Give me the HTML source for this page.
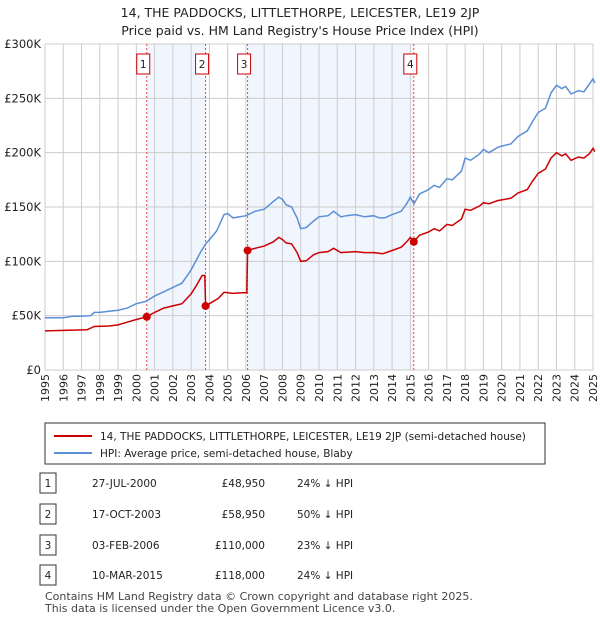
<!DOCTYPE html>
<html><head><meta charset="utf-8"><style>
body{margin:0;background:#fff;font-family:"Liberation Sans","DejaVu Sans",sans-serif;}
svg text{font-family:"DejaVu Sans","Liberation Sans",sans-serif;}
</style></head><body>
<svg id="chart" width="600" height="620" xmlns="http://www.w3.org/2000/svg">
<text x="300" y="17" text-anchor="middle" font-size="12.5" fill="#222">14, THE PADDOCKS, LITTLETHORPE, LEICESTER, LE19 2JP</text>
<text x="300" y="35" text-anchor="middle" font-size="12.5" fill="#222">Price paid vs. HM Land Registry's House Price Index (HPI)</text>
<g id="plot"></g>
<g>
<rect x="45" y="423" width="500" height="41" fill="#fff" stroke="#333" stroke-width="1"/>
<line x1="54" y1="436" x2="92" y2="436" stroke="#cc0000" stroke-width="2"/>
<text x="100" y="440" font-size="10.5" fill="#222">14, THE PADDOCKS, LITTLETHORPE, LEICESTER, LE19 2JP (semi-detached house)</text>
<line x1="54" y1="453" x2="92" y2="453" stroke="#5b8fd6" stroke-width="2"/>
<text x="100" y="457" font-size="10.5" fill="#222">HPI: Average price, semi-detached house, Blaby</text>
</g>
<g id="table" font-size="10.5" fill="#222"></g>
<text x="45" y="600" font-size="11" fill="#444">Contains HM Land Registry data © Crown copyright and database right 2025.</text>
<text x="45" y="612" font-size="11" fill="#444">This data is licensed under the Open Government Licence v3.0.</text>
</svg>
<script>
const hpiT=[1995,1996,1996.5,1997,1997.5,1997.7,1998,1998.5,1999,1999.5,2000,2000.5,2001,2001.5,2002,2002.5,2003,2003.5,2003.8,2004,2004.4,2004.8,2005,2005.3,2006,2006.5,2007,2007.5,2007.8,2008,2008.2,2008.5,2008.8,2009,2009.3,2009.7,2010,2010.5,2010.8,2011.2,2011.5,2012,2012.5,2013,2013.3,2013.6,2014,2014.5,2014.8,2015,2015.2,2015.5,2016,2016.3,2016.6,2017,2017.3,2017.8,2018,2018.3,2018.8,2019,2019.3,2019.8,2020,2020.5,2020.9,2021.4,2021.7,2022,2022.4,2022.7,2023,2023.3,2023.5,2023.8,2024.2,2024.5,2024.8,2025,2025.1];
const hpiV=[48,48,49.5,49.5,50,53,53,54,55,57,61,63,68,72,76,80,92,108,116,120,128,143,144,140,142,146,148,155,159,157,152,150,140,130,131,137,141,142,146,141,142,143,141,142,140,140,143,146,153,159,153,162,166,170,168,176,175,183,195,193,199,203,200,205,206,208,215,220,229,237,241,255,262,259,261,254,257,256,263,268,264];
const ppT=[1995,1997.3,1997.7,1998.5,1999,1999.5,2000,2000.57,2001,2001.5,2002,2002.5,2003,2003.3,2003.6,2003.75,2003.79,2004,2004.5,2004.8,2005.3,2005.8,2006.05,2006.09,2006.5,2007,2007.5,2007.8,2008,2008.2,2008.5,2008.8,2009,2009.3,2009.7,2010,2010.5,2010.8,2011.2,2012,2012.5,2013,2013.5,2014,2014.5,2014.8,2015,2015.19,2015.5,2016,2016.3,2016.6,2017,2017.3,2017.8,2018,2018.3,2018.8,2019,2019.3,2019.8,2020.5,2020.9,2021.4,2021.7,2022,2022.4,2022.7,2023,2023.3,2023.5,2023.8,2024.2,2024.5,2024.8,2025,2025.1];
const ppV=[36,37,40,40.5,41.5,44,46.5,48.95,53,57,59,61,70,78,87,87,58.95,61,66,71.5,70.5,71,71,110,112,114,118,122,120,117,116,108,100,100.5,106,108,109,112,108,109,108,108,107,110,113,118,122,118,124,127,130,128,134,133,139,148,147,151,154,153,156,158,163,166,174,181,185,195,200,197,199,193,196,195,199,204,201];
const saleT=[2000.57,2003.79,2006.09,2015.19];
const saleV=[48.95,58.95,110,118];
const saleLabels=["1","2","3","4"];
const saleDates=["27-JUL-2000","17-OCT-2003","03-FEB-2006","10-MAR-2015"];
const salePrices=["£48,950","£58,950","£110,000","£118,000"];
const saleHpi=["24% ↓ HPI","50% ↓ HPI","23% ↓ HPI","24% ↓ HPI"];
const yTicks=[0,50,100,150,200,250,300];
const yTickLabels=["£0","£50K","£100K","£150K","£200K","£250K","£300K"];
const xYears=[1995,1996,1997,1998,1999,2000,2001,2002,2003,2004,2005,2006,2007,2008,2009,2010,2011,2012,2013,2014,2015,2016,2017,2018,2019,2020,2021,2022,2023,2024,2025];

const NS="http://www.w3.org/2000/svg";
const X0=45,X1=593,Y0=370,Y1=44;
const xs=t=>X0+(t-1995)/30*(X1-X0);
const ys=v=>Y0-v/300*(Y0-Y1);
const plot=document.getElementById('plot');
function mk(tag,attrs,parent){const e=document.createElementNS(NS,tag);for(const k in attrs)e.setAttribute(k,attrs[k]);(parent||plot).appendChild(e);return e;}
// shading
for(let i=0;i<4;i+=2){
 const r=mk('rect',{x:xs(saleT[i]),y:Y1,width:xs(saleT[i+1])-xs(saleT[i]),height:Y0-Y1,fill:'#eef3fc','fill-opacity':0.8});
 
 
}
xYears.forEach(y=>{
 const l=mk('line',{x1:xs(y),x2:xs(y),y1:Y1,y2:Y0,stroke:'#ccc','stroke-width':1});
 
 
 const t=mk('text',{x:0,y:0,transform:`translate(${xs(y)+4},${Y0+4}) rotate(-90)`,'text-anchor':'end','font-size':11,fill:'#222'});
 t.textContent=y;
 
 
});
yTicks.forEach((v,i)=>{
 const l=mk('line',{x1:X0,x2:X1,y1:ys(v),y2:ys(v),stroke:'#ccc','stroke-width':1});
 
 
 const t=mk('text',{x:X0-4,y:ys(v)+4,'text-anchor':'end','font-size':11.5,fill:'#222'});
 t.textContent=yTickLabels[i];
 
 
});
saleT.forEach((t,i)=>{
 const l=mk('line',{x1:xs(t),x2:xs(t),y1:Y1,y2:Y0,stroke:'#ee4444','stroke-width':1,'stroke-dasharray':'2,2'});
 
 
 const b=mk('rect',{x:xs(t)-10,y:54,width:13,height:20,fill:'#fff',stroke:'#cc0000','stroke-width':1});
 
 
 const tx=mk('text',{x:xs(t)-3.5,y:68,'text-anchor':'middle','font-size':10.5,fill:'#222'});
 tx.textContent=saleLabels[i];
 
 
});
const hp=mk('path',{d:hpiT.map((t,i)=>(i?'L':'M')+xs(t).toFixed(1)+','+ys(hpiV[i]).toFixed(1)).join(''),fill:'none',stroke:'#5b8fd6','stroke-width':1.5});


const pp=mk('path',{d:ppT.map((t,i)=>(i?'L':'M')+xs(t).toFixed(1)+','+ys(ppV[i]).toFixed(1)).join(''),fill:'none',stroke:'#cc0000','stroke-width':1.5});


saleT.forEach((t,i)=>{
 const c=mk('circle',{cx:xs(t),cy:ys(saleV[i]),r:4,fill:'#cc0000'});
 
 
});
const tb=document.getElementById('table');
const rowY=[483,514,545,575];
saleLabels.forEach((s,i)=>{
 const y=rowY[i];
 const b=mk('rect',{x:40,y:y-10,width:16,height:20,fill:'#fff',stroke:'#333','stroke-width':1},tb);
 
 
 const vals=[[48,s,'middle'],[92,saleDates[i],'start'],[265,salePrices[i],'end'],[297,saleHpi[i],'start']];
 vals.forEach(v=>{
  const t=mk('text',{x:v[0],y:y+4,'text-anchor':v[2]},tb);
  t.textContent=v[1];
  
  
 });
});
</script>
</body></html>
